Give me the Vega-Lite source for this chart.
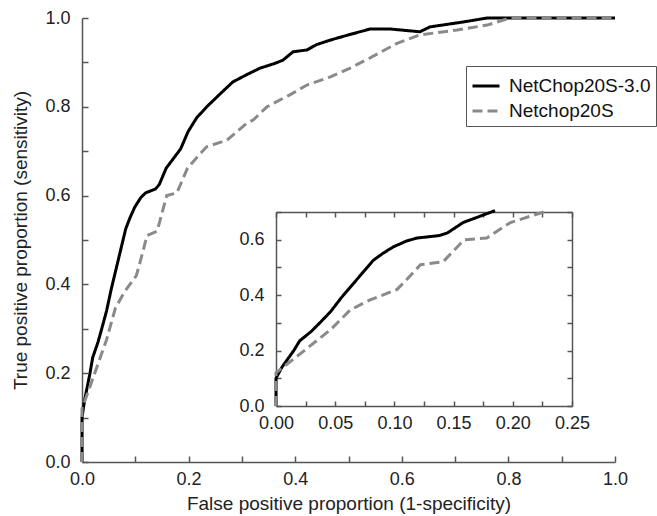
{
  "$schema": "https://vega.github.io/schema/vega-lite/v6.json",
  "width": 533,
  "height": 444,
  "autosize": "none",
  "padding": {"left": 82, "top": 18, "right": 42, "bottom": 54},
  "background": "white",
  "config": {
    "font": "Liberation Sans",
    "view": {"stroke": null},
    "axis": {
      "domainColor": "#555",
      "domainWidth": 1.5,
      "tickColor": "#555",
      "tickWidth": 1.5,
      "labelFont": "Liberation Sans",
      "labelFontSize": 18,
      "labelColor": "#222",
      "labelFlush": false,
      "labelOverlap": false,
      "titleFont": "Liberation Sans",
      "titleFontSize": 19,
      "titleFontWeight": "normal",
      "titleColor": "#222",
      "grid": false
    }
  },
  "data": {
    "values": [
      {"s": "NetChop20S-3.0", "i": 0, "x": 0, "y": 0},
      {"s": "NetChop20S-3.0", "i": 1, "x": 0, "y": 0.10},
      {"s": "NetChop20S-3.0", "i": 2, "x": 0.005, "y": 0.14},
      {"s": "NetChop20S-3.0", "i": 3, "x": 0.01, "y": 0.17},
      {"s": "NetChop20S-3.0", "i": 4, "x": 0.015, "y": 0.20},
      {"s": "NetChop20S-3.0", "i": 5, "x": 0.02, "y": 0.235},
      {"s": "NetChop20S-3.0", "i": 6, "x": 0.03, "y": 0.27},
      {"s": "NetChop20S-3.0", "i": 7, "x": 0.037, "y": 0.30},
      {"s": "NetChop20S-3.0", "i": 8, "x": 0.046, "y": 0.34},
      {"s": "NetChop20S-3.0", "i": 9, "x": 0.055, "y": 0.39},
      {"s": "NetChop20S-3.0", "i": 10, "x": 0.065, "y": 0.44},
      {"s": "NetChop20S-3.0", "i": 11, "x": 0.075, "y": 0.49},
      {"s": "NetChop20S-3.0", "i": 12, "x": 0.082, "y": 0.525},
      {"s": "NetChop20S-3.0", "i": 13, "x": 0.09, "y": 0.55},
      {"s": "NetChop20S-3.0", "i": 14, "x": 0.099, "y": 0.574},
      {"s": "NetChop20S-3.0", "i": 15, "x": 0.11, "y": 0.595},
      {"s": "NetChop20S-3.0", "i": 16, "x": 0.119, "y": 0.606},
      {"s": "NetChop20S-3.0", "i": 17, "x": 0.138, "y": 0.615},
      {"s": "NetChop20S-3.0", "i": 18, "x": 0.145, "y": 0.625},
      {"s": "NetChop20S-3.0", "i": 19, "x": 0.158, "y": 0.662},
      {"s": "NetChop20S-3.0", "i": 20, "x": 0.175, "y": 0.689},
      {"s": "NetChop20S-3.0", "i": 21, "x": 0.185, "y": 0.705},
      {"s": "NetChop20S-3.0", "i": 22, "x": 0.199, "y": 0.744},
      {"s": "NetChop20S-3.0", "i": 23, "x": 0.215, "y": 0.775},
      {"s": "NetChop20S-3.0", "i": 24, "x": 0.234, "y": 0.80},
      {"s": "NetChop20S-3.0", "i": 25, "x": 0.26, "y": 0.83},
      {"s": "NetChop20S-3.0", "i": 26, "x": 0.283, "y": 0.856},
      {"s": "NetChop20S-3.0", "i": 27, "x": 0.31, "y": 0.873},
      {"s": "NetChop20S-3.0", "i": 28, "x": 0.334, "y": 0.887},
      {"s": "NetChop20S-3.0", "i": 29, "x": 0.36, "y": 0.897},
      {"s": "NetChop20S-3.0", "i": 30, "x": 0.377, "y": 0.905},
      {"s": "NetChop20S-3.0", "i": 31, "x": 0.396, "y": 0.924},
      {"s": "NetChop20S-3.0", "i": 32, "x": 0.422, "y": 0.928},
      {"s": "NetChop20S-3.0", "i": 33, "x": 0.44, "y": 0.94},
      {"s": "NetChop20S-3.0", "i": 34, "x": 0.465, "y": 0.95},
      {"s": "NetChop20S-3.0", "i": 35, "x": 0.50, "y": 0.962},
      {"s": "NetChop20S-3.0", "i": 36, "x": 0.54, "y": 0.975},
      {"s": "NetChop20S-3.0", "i": 37, "x": 0.58, "y": 0.975},
      {"s": "NetChop20S-3.0", "i": 38, "x": 0.634, "y": 0.969},
      {"s": "NetChop20S-3.0", "i": 39, "x": 0.653, "y": 0.98},
      {"s": "NetChop20S-3.0", "i": 40, "x": 0.715, "y": 0.991},
      {"s": "NetChop20S-3.0", "i": 41, "x": 0.76, "y": 1.0},
      {"s": "NetChop20S-3.0", "i": 42, "x": 1.0, "y": 1.0},
      {"s": "Netchop20S", "i": 0, "x": 0, "y": 0},
      {"s": "Netchop20S", "i": 1, "x": 0, "y": 0.12},
      {"s": "Netchop20S", "i": 2, "x": 0.006, "y": 0.14},
      {"s": "Netchop20S", "i": 3, "x": 0.015, "y": 0.17},
      {"s": "Netchop20S", "i": 4, "x": 0.028, "y": 0.214},
      {"s": "Netchop20S", "i": 5, "x": 0.046, "y": 0.275},
      {"s": "Netchop20S", "i": 6, "x": 0.0625, "y": 0.346},
      {"s": "Netchop20S", "i": 7, "x": 0.079, "y": 0.382},
      {"s": "Netchop20S", "i": 8, "x": 0.102, "y": 0.42},
      {"s": "Netchop20S", "i": 9, "x": 0.109, "y": 0.45},
      {"s": "Netchop20S", "i": 10, "x": 0.122, "y": 0.51},
      {"s": "Netchop20S", "i": 11, "x": 0.141, "y": 0.52},
      {"s": "Netchop20S", "i": 12, "x": 0.159, "y": 0.60},
      {"s": "Netchop20S", "i": 13, "x": 0.178, "y": 0.606},
      {"s": "Netchop20S", "i": 14, "x": 0.198, "y": 0.662},
      {"s": "Netchop20S", "i": 15, "x": 0.226, "y": 0.70},
      {"s": "Netchop20S", "i": 16, "x": 0.234, "y": 0.71},
      {"s": "Netchop20S", "i": 17, "x": 0.272, "y": 0.725},
      {"s": "Netchop20S", "i": 18, "x": 0.309, "y": 0.763},
      {"s": "Netchop20S", "i": 19, "x": 0.321, "y": 0.77},
      {"s": "Netchop20S", "i": 20, "x": 0.347, "y": 0.80},
      {"s": "Netchop20S", "i": 21, "x": 0.39, "y": 0.827},
      {"s": "Netchop20S", "i": 22, "x": 0.422, "y": 0.849},
      {"s": "Netchop20S", "i": 23, "x": 0.465, "y": 0.867},
      {"s": "Netchop20S", "i": 24, "x": 0.503, "y": 0.887},
      {"s": "Netchop20S", "i": 25, "x": 0.54, "y": 0.91},
      {"s": "Netchop20S", "i": 26, "x": 0.591, "y": 0.943},
      {"s": "Netchop20S", "i": 27, "x": 0.634, "y": 0.962},
      {"s": "Netchop20S", "i": 28, "x": 0.704, "y": 0.973},
      {"s": "Netchop20S", "i": 29, "x": 0.76, "y": 0.984},
      {"s": "Netchop20S", "i": 30, "x": 0.803, "y": 1.0},
      {"s": "Netchop20S", "i": 31, "x": 1.0, "y": 1.0}
    ]
  },
  "layer": [
    {
      "mark": {"type": "line", "strokeWidth": 3},
      "encoding": {
        "x": {
          "field": "x", "type": "quantitative",
          "scale": {"domain": [0, 1], "nice": false},
          "axis": {
            "orient": "bottom",
            "values": [0, 0.1, 0.2, 0.3, 0.4, 0.5, 0.6, 0.7, 0.8, 0.9, 1.0],
            "labelExpr": "round(datum.value*10)%2==0 ? format(datum.value,'.1f') : ''",
            "tickSize": -6,
            "labelPadding": 14,
            "title": "False positive proportion (1-specificity)",
            "titlePadding": 6
          }
        },
        "y": {
          "field": "y", "type": "quantitative",
          "scale": {"domain": [0, 1], "nice": false},
          "axis": {
            "orient": "left",
            "values": [0, 0.1, 0.2, 0.3, 0.4, 0.5, 0.6, 0.7, 0.8, 0.9, 1.0],
            "labelExpr": "round(datum.value*10)%2==0 ? format(datum.value,'.1f') : ''",
            "tickSize": -6,
            "labelPadding": 18,
            "title": "True positive proportion (sensitivity)",
            "titlePadding": 14
          }
        },
        "color": {
          "field": "s", "type": "nominal",
          "scale": {"domain": ["NetChop20S-3.0", "Netchop20S"], "range": ["#000000", "#8a8a8a"]},
          "legend": {
            "title": null,
            "orient": "none",
            "legendX": 384,
            "legendY": 48,
            "symbolType": "stroke",
            "symbolSize": 729,
            "symbolStrokeWidth": 3,
            "labelFontSize": 19,
            "labelFont": "Liberation Sans",
            "labelColor": "#111",
            "labelLimit": 300,
            "rowPadding": -2,
            "padding": 5,
            "strokeColor": "#555",
            "fillColor": "white",
            "labelOffset": 8
          }
        },
        "strokeDash": {
          "field": "s", "type": "nominal",
          "scale": {"domain": ["NetChop20S-3.0", "Netchop20S"], "range": [[1, 0], [10, 5]]},
          "legend": null
        },
        "order": {"field": "i", "type": "quantitative"}
      }
    },
    {
      "transform": [{"filter": "datum.x <= 0.25 && datum.y <= 0.706"}],
      "mark": {"type": "line", "strokeWidth": 3},
      "encoding": {
        "x": {
          "field": "x", "type": "quantitative",
          "scale": {"domain": [0, 0.25], "range": [194, 490], "nice": false},
          "axis": {
            "orient": "bottom",
            "offset": -56,
            "values": [0, 0.025, 0.05, 0.075, 0.1, 0.125, 0.15, 0.175, 0.2, 0.225, 0.25],
            "labelExpr": "round(datum.value*40)%2==0 ? format(datum.value,'.2f') : ''",
            "tickSize": -5,
            "labelPadding": 13,
            "title": null
          }
        },
        "y": {
          "field": "y", "type": "quantitative",
          "scale": {"domain": [0, 0.7], "range": [388, 194], "nice": false},
          "axis": {
            "orient": "left",
            "offset": -194,
            "values": [0, 0.1, 0.2, 0.3, 0.4, 0.5, 0.6, 0.7],
            "labelExpr": "round(datum.value*10)%2==0 && datum.value < 0.65 ? format(datum.value,'.1f') : ''",
            "tickSize": -5,
            "labelPadding": 17,
            "title": null
          }
        },
        "color": {"field": "s", "type": "nominal", "legend": null},
        "strokeDash": {"field": "s", "type": "nominal", "legend": null},
        "order": {"field": "i", "type": "quantitative"}
      }
    },
    {
      "transform": [{"filter": "datum.x <= 0.25 && datum.y <= 0.706"}],
      "mark": {"type": "line", "opacity": 0},
      "encoding": {
        "x": {
          "field": "x", "type": "quantitative",
          "scale": {"domain": [0, 0.25], "range": [194, 490], "nice": false},
          "axis": {
            "orient": "top",
            "offset": -194,
            "values": [0, 0.025, 0.05, 0.075, 0.1, 0.125, 0.15, 0.175, 0.2, 0.225, 0.25],
            "labels": false,
            "tickSize": -5,
            "title": null
          }
        },
        "y": {
          "field": "y", "type": "quantitative",
          "scale": {"domain": [0, 0.7], "range": [388, 194], "nice": false},
          "axis": {
            "orient": "right",
            "offset": -43,
            "values": [0, 0.1, 0.2, 0.3, 0.4, 0.5, 0.6, 0.7],
            "labels": false,
            "tickSize": -5,
            "title": null
          }
        },
        "detail": {"field": "s", "type": "nominal"},
        "order": {"field": "i", "type": "quantitative"}
      }
    }
  ],
  "resolve": {"scale": {"x": "independent", "y": "independent"}}
}
